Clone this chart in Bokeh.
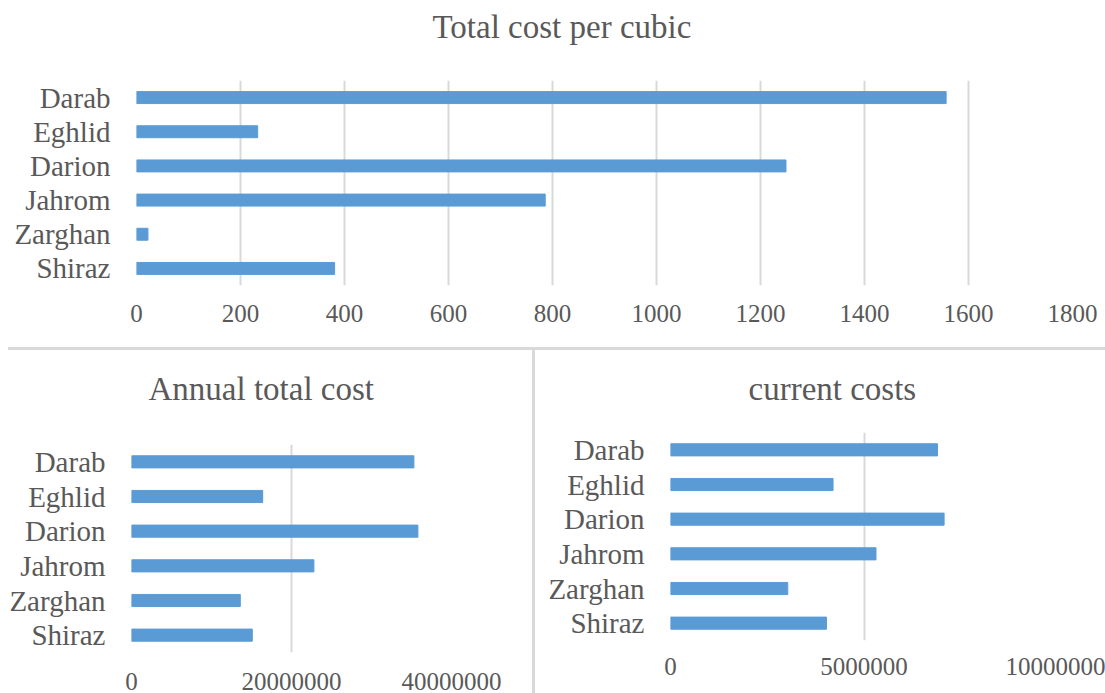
from bokeh.plotting import figure
from bokeh.models import FactorRange, Range1d, Spacer, NumeralTickFormatter, FixedTicker, Title
from bokeh.layouts import column, row
from bokeh.embed import file_html
from bokeh.resources import INLINE

# ---- data ----
cities = ["Darab", "Eghlid", "Darion", "Jahrom", "Zarghan", "Shiraz"]
cost_per_cubic = [1557, 233, 1249, 786, 22, 381]
annual_total_cost = [35300000, 16400000, 35800000, 22800000, 13600000, 15100000]
current_costs = [6900000, 4200000, 7070000, 5310000, 3030000, 4030000]
top_ticks = [0, 200, 400, 600, 800, 1000, 1200, 1400, 1600, 1800]
annual_ticks = [0, 20000000, 40000000]
current_ticks = [0, 5000000, 10000000]

FONT = "Liberation Serif"
TXT = "#595959"
BAR = "#5B9BD5"
GRID = "#D9D9D9"


def make(title, values, ticks, width, height, mb, t_off, gap, x_stand, y_stand):
    p = figure(width=width, height=height, output_backend="svg", toolbar_location=None,
               y_range=FactorRange(factors=list(reversed(cities)), range_padding=0),
               x_range=Range1d(0, ticks[-1]),
               min_border_left=mb[0], min_border_right=mb[1],
               min_border_top=mb[2], min_border_bottom=mb[3],
               title=title)
    # empty spacer between the title and the plot area
    p.add_layout(Title(text=" ", text_font_size="10px", standoff=gap), "above")
    p.hbar(y=cities, left=0, right=values, height=0.35, fill_color=BAR, line_color=BAR)
    p.title.text_font = FONT
    p.title.text_font_size = "33px"
    p.title.text_font_style = "normal"
    p.title.text_color = TXT
    p.title.align = "left"
    p.title.offset = t_off
    p.title.standoff = 0
    p.outline_line_color = None
    p.ygrid.grid_line_color = None
    p.xgrid.grid_line_color = GRID
    p.xgrid.grid_line_width = 2
    p.xaxis.ticker = FixedTicker(ticks=ticks)
    p.xaxis.formatter = NumeralTickFormatter(format="0")
    for ax in (p.xaxis, p.yaxis):
        ax.axis_line_color = None
        ax.major_tick_line_color = None
        ax.minor_tick_line_color = None
        ax.major_label_text_font = FONT
        ax.major_label_text_color = TXT
    p.xaxis.major_label_text_font_size = "25px"
    p.yaxis.major_label_text_font_size = "29px"
    p.xaxis.major_label_standoff = x_stand
    p.yaxis.major_label_standoff = y_stand
    return p


top = make("Total cost per cubic", cost_per_cubic, top_ticks, 1105, 347,
           (136, 33, 80, 62), 296, 23, 13, 20)
bl = make("Annual total cost", annual_total_cost, annual_ticks, 532, 343,
          (131, 81, 94, 41), 17, 25, 14, 20)
br = make("current costs", current_costs, current_ticks, 570, 343,
          (135, 48, 82, 53), 78, 13, 11, 20)

hsep = row(Spacer(width=8, height=3), Spacer(width=1097, height=3, styles={"background-color": GRID}))
vsep = Spacer(width=3, height=343, styles={"background-color": GRID})

layout = column(top, hsep, row(column(bl), vsep, column(br)))
open("out.html", "w").write(file_html(layout, INLINE))
